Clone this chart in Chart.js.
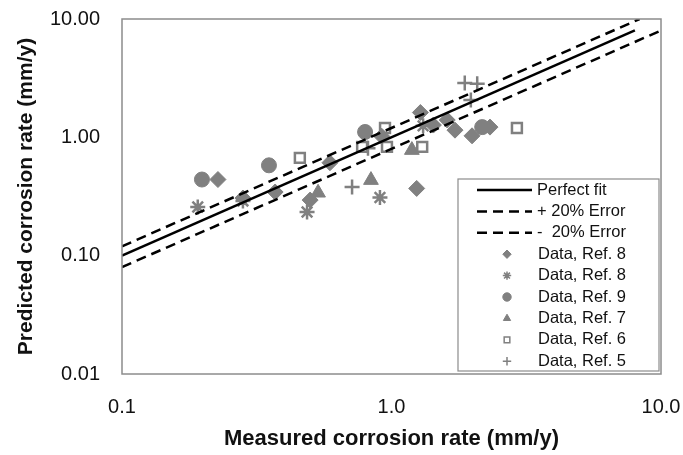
<!DOCTYPE html>
<html>
<head>
<meta charset="utf-8">
<script src="https://cdn.jsdelivr.net/npm/chart.js@4/dist/chart.umd.min.js"></script>
<style>
  html, body { margin: 0; padding: 0; background: #fff; }
  #wrap { width: 683px; height: 455px; }
</style>
</head>
<body>
<div id="wrap"><canvas id="corrosionChart" width="683" height="455"></canvas></div>
<script>
// reference lines
const fitX = [0.1, 8];
const fitY = [0.1, 8];
const plusErrX = [0.1, 8.33];
const plusErrY = [0.12, 10];
const minusErrX = [0.1, 10];
const minusErrY = [0.08, 8];

// measured vs predicted, per source
const ref8aX = [0.227, 0.281, 0.37, 0.499, 0.591, 0.92, 1.24, 1.28, 1.43, 1.61, 1.72, 1.99, 2.32];
const ref8aY = [0.44, 0.307, 0.345, 0.295, 0.61, 1.02, 0.37, 1.62, 1.27, 1.4, 1.15, 1.03, 1.22];
const ref8bX = [0.191, 0.281, 0.486, 0.906, 1.31];
const ref8bY = [0.258, 0.29, 0.234, 0.31, 1.25];
const ref9X = [0.198, 0.351, 0.798, 2.17];
const ref9Y = [0.44, 0.58, 1.11, 1.22];
const ref7X = [0.534, 0.839, 1.19];
const ref7Y = [0.34, 0.435, 0.78];
const ref6X = [0.457, 0.778, 0.946, 0.962, 1.3, 2.92];
const ref6Y = [0.67, 0.83, 1.2, 0.83, 0.83, 1.2];
const ref5X = [0.714, 0.818, 1.87, 2.08, 1.97];
const ref5Y = [0.38, 0.81, 2.88, 2.83, 2.07];

const xTicks = [0.1, 1, 10];
const yTicks = [0.01, 0.1, 1, 10];

const GRAY = "#808080";
const FONT = "'Liberation Sans', Arial, sans-serif";

function pts(xs, ys) {
  return xs.map((x, i) => ({ x: x, y: ys[i] }));
}

function lineSet(label, xs, ys, dash) {
  return {
    label: label,
    data: pts(xs, ys),
    showLine: true,
    borderColor: "#000",
    borderWidth: 2.5,
    borderDash: dash,
    pointRadius: 0,
    fill: false,
    legendKind: "line",
  };
}

function markSet(label, xs, ys, style, radius, filled, lw) {
  return {
    label: label,
    data: pts(xs, ys),
    showLine: false,
    pointStyle: style,
    pointRadius: radius,
    pointHoverRadius: radius,
    pointBackgroundColor: filled ? GRAY : "#fff",
    pointBorderColor: GRAY,
    pointBorderWidth: lw,
    legendKind: "mark",
  };
}

// frame box plus the legend inside the plot area
const framePlugin = {
  id: "frameAndLegend",
  afterDraw(chart) {
    const ctx = chart.ctx;
    const a = chart.chartArea;
    ctx.save();
    ctx.strokeStyle = "#8c8c8c";
    ctx.lineWidth = 1.5;
    ctx.strokeRect(a.left, a.top, a.right - a.left, a.bottom - a.top);

    const bx = 458, by = 179, bw = 201, bh = 192;
    ctx.fillStyle = "#fff";
    ctx.fillRect(bx, by, bw, bh);
    ctx.strokeStyle = "#8c8c8c";
    ctx.lineWidth = 1.2;
    ctx.strokeRect(bx, by, bw, bh);

    ctx.font = "16.5px " + FONT;
    ctx.textBaseline = "middle";
    ctx.fillStyle = "#111";
    chart.data.datasets.forEach((ds, i) => {
      const cy = 190 + i * 21.4;
      if (ds.legendKind === "line") {
        ctx.strokeStyle = "#000";
        ctx.lineWidth = 2.5;
        ctx.setLineDash(ds.borderDash || []);
        ctx.beginPath();
        ctx.moveTo(477, cy);
        ctx.lineTo(532, cy);
        ctx.stroke();
        ctx.setLineDash([]);
        ctx.fillText(ds.label, 537, cy);
      } else {
        ctx.fillStyle = ds.pointBackgroundColor;
        ctx.strokeStyle = ds.pointBorderColor;
        ctx.lineWidth = Math.min(ds.pointBorderWidth, 1.5);
        Chart.helpers.drawPoint(ctx, {
          pointStyle: ds.pointStyle,
          radius: ds.pointStyle === "rect" ? 4 : 4.2,
          borderWidth: ctx.lineWidth,
          rotation: 0,
        }, 507, cy);
        ctx.fillStyle = "#111";
        ctx.fillText(ds.label, 538, cy);
      }
    });
    ctx.restore();
  },
};

const ctx = document.getElementById("corrosionChart").getContext("2d");
new Chart(ctx, {
  type: "scatter",
  data: {
    datasets: [
      lineSet("Perfect fit", fitX, fitY, []),
      lineSet("+ 20% Error", plusErrX, plusErrY, [10, 6]),
      lineSet("-  20% Error", minusErrX, minusErrY, [10, 6]),
      markSet("Data, Ref. 8", ref8aX, ref8aY, "rectRot", 8, true, 1),
      markSet("Data, Ref. 8", ref8bX, ref8bY, "star", 7.5, false, 2.5),
      markSet("Data, Ref. 9", ref9X, ref9Y, "circle", 7.5, true, 1),
      markSet("Data, Ref. 7", ref7X, ref7Y, "triangle", 8.5, true, 1),
      markSet("Data, Ref. 6", ref6X, ref6Y, "rect", 7, false, 2.5),
      markSet("Data, Ref. 5", ref5X, ref5Y, "cross", 7.5, false, 2.5),
    ],
  },
  options: {
    responsive: false,
    animation: false,
    layout: { padding: { top: 19, right: 22, left: 0, bottom: 0 } },
    plugins: {
      legend: { display: false },
      tooltip: { enabled: false },
    },
    scales: {
      x: {
        type: "logarithmic",
        min: 0.1,
        max: 10,
        grid: { display: false, drawTicks: false },
        border: { display: false },
        afterBuildTicks: (s) => { s.ticks = xTicks.map((v) => ({ value: v })); },
        afterFit: (s) => {
          s.height = 81;
          s.paddingLeft = 0;
          s.paddingRight = 0;
        },
        ticks: {
          color: "#111",
          padding: 21,
          autoSkip: false,
          maxRotation: 0,
          font: { family: FONT, size: 20 },
          callback: (v) => Number(v).toFixed(1),
        },
        title: {
          display: true,
          text: "Measured corrosion rate (mm/y)",
          color: "#111",
          padding: { top: 0, bottom: 3 },
          font: { family: FONT, size: 22, weight: "bold" },
        },
      },
      y: {
        type: "logarithmic",
        min: 0.01,
        max: 10,
        grid: { display: false, drawTicks: false },
        border: { display: false },
        afterBuildTicks: (s) => { s.ticks = yTicks.map((v) => ({ value: v })); },
        afterFit: (s) => {
          s.width = 122;
          s.paddingTop = 0;
          s.paddingBottom = 0;
        },
        ticks: {
          color: "#111",
          padding: 22,
          autoSkip: false,
          font: { family: FONT, size: 20 },
          callback: (v) => Number(v).toFixed(2),
        },
        title: {
          display: true,
          text: "Predicted corrosion rate (mm/y)",
          color: "#111",
          padding: { top: 14, bottom: 0 },
          font: { family: FONT, size: 21, weight: "bold" },
        },
      },
    },
  },
  plugins: [framePlugin],
});
</script>
</body>
</html>
